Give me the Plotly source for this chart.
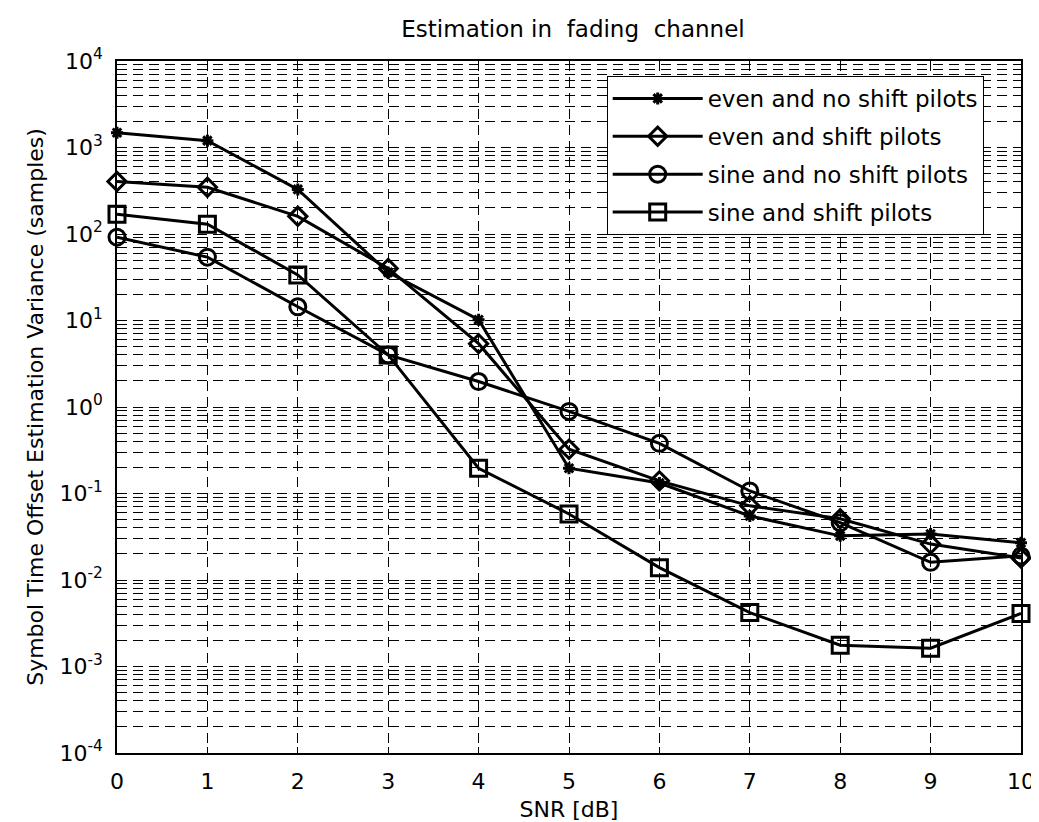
import plotly.graph_objects as go

snr = [0, 1, 2, 3, 4, 5, 6, 7, 8, 9, 10]
even_no_shift = [1480, 1200, 328, 36, 10.2, 0.196, 0.132, 0.055, 0.0324, 0.034, 0.027]
even_shift = [405, 347, 160, 40, 5.4, 0.325, 0.14, 0.072, 0.051, 0.026, 0.018]
sine_no_shift = [92, 54, 14.4, 4.0, 1.97, 0.89, 0.38, 0.107, 0.046, 0.016, 0.019]
sine_shift = [169, 130, 33.6, 4.0, 0.196, 0.058, 0.0139, 0.0042, 0.00176, 0.00163, 0.0041]

names = ["even and no shift pilots", "even and shift pilots",
         "sine and no shift pilots", "sine and shift pilots"]
series = [even_no_shift, even_shift, sine_no_shift, sine_shift]
symbols = ["asterisk-open", "diamond-open", "circle-open", "square-open"]
sizes = [10, 14, 16, 16]

y_exponents = [-4, -3, -2, -1, 0, 1, 2, 3, 4]
x_ticks = list(range(0, 11))

FONT = "'DejaVu Sans', Arial, sans-serif"

fig = go.Figure()
for i, (name, ys, sym, sz) in enumerate(zip(names, series, symbols, sizes)):
    fig.add_trace(go.Scatter(
        x=snr, y=ys, name=name, mode="lines+markers", legendgroup=f"g{i}",
        line=dict(color="black", width=3),
        marker=dict(symbol=sym, size=sz, color="black",
                    line=dict(color="black", width=3)),
        cliponaxis=False,
    ))

major_vals = [10.0 ** e for e in y_exponents]
major_text = [f"10<sup>{e}</sup>" for e in y_exponents]
minor_vals = [m * 10.0 ** e for e in y_exponents[:-1] for m in range(2, 10)]

grid_dash = "10px,6px"
fig.update_layout(
    width=1039, height=822,
    paper_bgcolor="white", plot_bgcolor="white",
    margin=dict(l=109, r=18, t=53, b=73),
    font=dict(family=FONT, color="black", size=22),
    title=dict(text="Estimation in\u00a0 fading\u00a0 channel", x=0.5438, xanchor="center",
               xref="container", yref="container",
               y=0.9745, yanchor="middle", font=dict(size=23, family=FONT)),
    showlegend=True,
    legend=dict(x=0.5417, y=0.9784, xanchor="left", yanchor="top",
                bgcolor="white", bordercolor="black", borderwidth=1,
                font=dict(size=23, family=FONT), itemwidth=90,
                tracegroupgap=5),
    xaxis=dict(
        range=[0, 10], tickvals=x_ticks, ticks="inside", ticklen=6,
        tickcolor="black", showline=True, linecolor="black", linewidth=1.5, mirror="ticks",
        showgrid=True, gridcolor="black", gridwidth=1, griddash=grid_dash,
        zeroline=False, tickfont=dict(size=22), ticklabelstandoff=8,
        title=dict(text="SNR [dB]", font=dict(size=22), standoff=8),
    ),
    yaxis=dict(
        type="log", range=[-4, 4], tickvals=major_vals, ticktext=major_text,
        ticks="inside", ticklen=6, tickcolor="black",
        showline=True, linecolor="black", linewidth=1.5, mirror="ticks",
        showgrid=True, gridcolor="black", gridwidth=0.9, griddash=grid_dash,
        minor=dict(tickmode="array", tickvals=minor_vals, ticks="inside", ticklen=3,
                   tickcolor="black", showgrid=True, gridcolor="black",
                   gridwidth=0.8, griddash=grid_dash),
        zeroline=False, tickfont=dict(size=22), ticklabelstandoff=8,
        title=dict(text="Symbol Time Offset Estimation Variance (samples)",
                   font=dict(size=22), standoff=10),
    ),
)

fig.write_html("out.html")
